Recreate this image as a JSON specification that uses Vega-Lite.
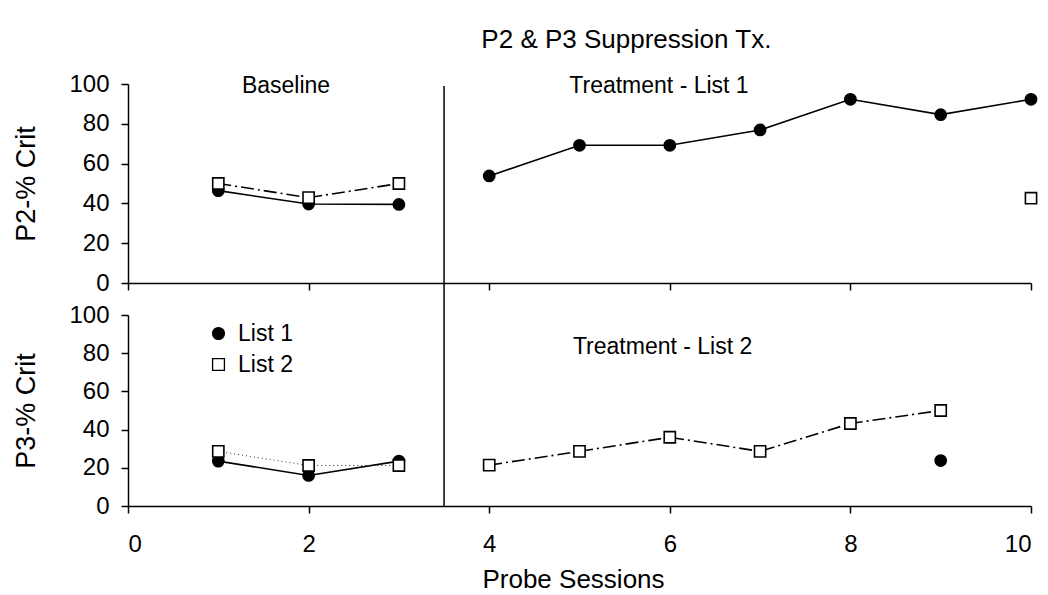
{
  "$schema": "https://vega.github.io/schema/vega-lite/v6.json",
  "padding": {"left": 12, "top": 27, "right": 5, "bottom": 5},
  "autosize": {"type": "pad"},
  "background": "white",
  "title": {"text": "P2 & P3 Suppression Tx.", "fontSize": 26, "font": "Liberation Sans", "fontWeight": "normal", "color": "black", "anchor": "middle", "dx": 100, "offset": 19},
  "datasets": {
    "obs": [
      {"panel": "P2", "list": "List 1", "phase": "Baseline", "session": 1, "pct": 46.4},
      {"panel": "P2", "list": "List 1", "phase": "Baseline", "session": 2, "pct": 39.7},
      {"panel": "P2", "list": "List 1", "phase": "Baseline", "session": 3, "pct": 39.5},
      {"panel": "P2", "list": "List 1", "phase": "Treatment", "session": 4, "pct": 53.8},
      {"panel": "P2", "list": "List 1", "phase": "Treatment", "session": 5, "pct": 69.2},
      {"panel": "P2", "list": "List 1", "phase": "Treatment", "session": 6, "pct": 69.2},
      {"panel": "P2", "list": "List 1", "phase": "Treatment", "session": 7, "pct": 76.9},
      {"panel": "P2", "list": "List 1", "phase": "Treatment", "session": 8, "pct": 92.3},
      {"panel": "P2", "list": "List 1", "phase": "Treatment", "session": 9, "pct": 84.6},
      {"panel": "P2", "list": "List 1", "phase": "Treatment", "session": 10, "pct": 92.3},
      {"panel": "P3", "list": "List 1", "phase": "Baseline", "session": 1, "pct": 23.5},
      {"panel": "P3", "list": "List 1", "phase": "Baseline", "session": 2, "pct": 16.0},
      {"panel": "P3", "list": "List 1", "phase": "Baseline", "session": 3, "pct": 23.5},
      {"panel": "P3", "list": "List 1", "phase": "Treatment", "session": 9, "pct": 23.8},
      {"panel": "P2", "list": "List 2", "phase": "Baseline", "session": 1, "pct": 50.0},
      {"panel": "P2", "list": "List 2", "phase": "Baseline", "session": 2, "pct": 42.9},
      {"panel": "P2", "list": "List 2", "phase": "Baseline", "session": 3, "pct": 50.0},
      {"panel": "P2", "list": "List 2", "phase": "Treatment", "session": 10, "pct": 42.6},
      {"panel": "P3", "list": "List 2", "phase": "Baseline", "session": 1, "pct": 28.6},
      {"panel": "P3", "list": "List 2", "phase": "Baseline", "session": 2, "pct": 21.2},
      {"panel": "P3", "list": "List 2", "phase": "Baseline", "session": 3, "pct": 21.2},
      {"panel": "P3", "list": "List 2", "phase": "Treatment", "session": 4, "pct": 21.4},
      {"panel": "P3", "list": "List 2", "phase": "Treatment", "session": 5, "pct": 28.6},
      {"panel": "P3", "list": "List 2", "phase": "Treatment", "session": 6, "pct": 36.0},
      {"panel": "P3", "list": "List 2", "phase": "Treatment", "session": 7, "pct": 28.6},
      {"panel": "P3", "list": "List 2", "phase": "Treatment", "session": 8, "pct": 43.2},
      {"panel": "P3", "list": "List 2", "phase": "Treatment", "session": 9, "pct": 50.0}
    ],
    "notes": [
      {"panel": "P2", "label": "Baseline", "session": 1.75, "pct": 99},
      {"panel": "P2", "label": "Treatment - List 1", "session": 5.88, "pct": 99},
      {"panel": "P3", "label": "Treatment - List 2", "session": 5.92, "pct": 83}
    ],
    "phase": [{"session": 3.5}]
  },
  "spacing": 32,
  "bounds": "flush",
  "resolve": {"legend": {"shape": "independent", "fill": "independent", "stroke": "independent"}},
  "vconcat": [
    {
      "width": 903,
      "height": 199,
      "layer": [
        {
          "data": {"name": "phase"},
          "mark": {"type": "rule", "color": "black", "strokeWidth": 1.5},
          "encoding": {"x": {"field": "session", "type": "quantitative"}, "y": {"datum": 99, "type": "quantitative"}, "y2": {"datum": -16.1}}
        },
        {
          "data": {"name": "obs"},
          "transform": [{"filter": "datum.panel === 'P2' && datum.list === 'List 1'"}],
          "mark": {"type": "line", "color": "black", "strokeWidth": 1.6},
          "encoding": {
            "x": {"field": "session", "type": "quantitative"},
            "y": {"field": "pct", "type": "quantitative"},
            "detail": {"field": "phase"}
          }
        },
        {
          "data": {"name": "obs"},
          "transform": [{"filter": "datum.panel === 'P2' && datum.list === 'List 2'"}],
          "mark": {"type": "line", "color": "black", "strokeWidth": 1.6, "strokeDash": [13, 4, 2, 4]},
          "encoding": {
            "x": {"field": "session", "type": "quantitative"},
            "y": {"field": "pct", "type": "quantitative"},
            "detail": {"field": "phase"}
          }
        },
        {
          "data": {"name": "obs"},
          "transform": [{"filter": "datum.panel === 'P2'"}],
          "mark": {"type": "point", "filled": true, "strokeWidth": 1.6, "opacity": 1},
          "encoding": {
            "x": {"field": "session", "type": "quantitative"},
            "y": {"field": "pct", "type": "quantitative"},
            "shape": {"field": "list", "type": "nominal", "scale": {"domain": ["List 1", "List 2"], "range": ["circle", "square"]}, "legend": null},
            "fill": {"field": "list", "type": "nominal", "scale": {"domain": ["List 1", "List 2"], "range": ["black", "white"]}, "legend": null},
            "stroke": {"field": "list", "type": "nominal", "scale": {"domain": ["List 1", "List 2"], "range": ["black", "black"]}, "legend": null},
            "size": {"field": "list", "type": "nominal", "scale": {"domain": ["List 1", "List 2"], "range": [125, 125]}, "legend": null}
          }
        },
        {
          "data": {"name": "notes"},
          "transform": [{"filter": "datum.panel === 'P2'"}],
          "mark": {"type": "text", "font": "Liberation Sans", "fontSize": 23, "color": "black", "align": "center", "baseline": "middle"},
          "encoding": {
            "x": {"field": "session", "type": "quantitative"},
            "y": {"field": "pct", "type": "quantitative"},
            "text": {"field": "label"}
          }
        }
      ],
      "encoding": {
        "x": {"type": "quantitative", "scale": {"domain": [0, 10], "nice": false, "zero": false}, "axis": {"values": [0, 2, 4, 6, 8, 10], "labels": false, "title": null}},
        "y": {"type": "quantitative", "scale": {"domain": [0, 100], "nice": false}, "axis": {"values": [0, 20, 40, 60, 80, 100], "title": "P2-% Crit"}}
      }
    },
    {
      "width": 903,
      "height": 191,
      "layer": [
        {
          "data": {"name": "phase"},
          "mark": {"type": "rule", "color": "black", "strokeWidth": 1.5},
          "encoding": {"x": {"field": "session", "type": "quantitative"}, "y": {"datum": 100, "type": "quantitative"}, "y2": {"datum": 0}}
        },
        {
          "data": {"name": "obs"},
          "transform": [{"filter": "datum.panel === 'P3' && datum.list === 'List 1'"}],
          "mark": {"type": "line", "color": "black", "strokeWidth": 1.6},
          "encoding": {
            "x": {"field": "session", "type": "quantitative"},
            "y": {"field": "pct", "type": "quantitative"},
            "detail": {"field": "phase"}
          }
        },
        {
          "data": {"name": "obs"},
          "transform": [{"filter": "datum.panel === 'P3' && datum.list === 'List 2' && datum.phase === 'Baseline'"}],
          "mark": {"type": "line", "color": "#333333", "strokeWidth": 1, "strokeDash": [1, 3]},
          "encoding": {
            "x": {"field": "session", "type": "quantitative"},
            "y": {"field": "pct", "type": "quantitative"}
          }
        },
        {
          "data": {"name": "obs"},
          "transform": [{"filter": "datum.panel === 'P3' && datum.list === 'List 2' && datum.phase === 'Treatment'"}],
          "mark": {"type": "line", "color": "black", "strokeWidth": 1.6, "strokeDash": [13, 4, 2, 4]},
          "encoding": {
            "x": {"field": "session", "type": "quantitative"},
            "y": {"field": "pct", "type": "quantitative"}
          }
        },
        {
          "data": {"name": "obs"},
          "transform": [{"filter": "datum.panel === 'P3'"}],
          "mark": {"type": "point", "filled": true, "strokeWidth": 1.6, "opacity": 1},
          "encoding": {
            "x": {"field": "session", "type": "quantitative"},
            "y": {"field": "pct", "type": "quantitative"},
            "shape": {"field": "list", "type": "nominal", "scale": {"domain": ["List 1", "List 2"], "range": ["circle", "square"]}, "legend": {"orient": "none", "legendX": 79, "legendY": 7, "title": null, "labelFontSize": 23, "labelFont": "Liberation Sans", "labelColor": "black", "symbolSize": 140, "symbolStrokeWidth": 1.3, "rowPadding": 7, "labelOffset": 8, "padding": 0}},
            "fill": {"field": "list", "type": "nominal", "scale": {"domain": ["List 1", "List 2"], "range": ["black", "white"]}, "legend": {"orient": "none", "legendX": 79, "legendY": 7, "title": null, "labelFontSize": 23, "labelFont": "Liberation Sans", "labelColor": "black", "symbolSize": 140, "symbolStrokeWidth": 1.3, "rowPadding": 7, "labelOffset": 8, "padding": 0}},
            "stroke": {"field": "list", "type": "nominal", "scale": {"domain": ["List 1", "List 2"], "range": ["black", "black"]}, "legend": {"orient": "none", "legendX": 79, "legendY": 7, "title": null, "labelFontSize": 23, "labelFont": "Liberation Sans", "labelColor": "black", "symbolSize": 140, "symbolStrokeWidth": 1.3, "rowPadding": 7, "labelOffset": 8, "padding": 0}},
            "size": {"field": "list", "type": "nominal", "scale": {"domain": ["List 1", "List 2"], "range": [125, 125]}, "legend": null}
          }
        },
        {
          "data": {"name": "notes"},
          "transform": [{"filter": "datum.panel === 'P3'"}],
          "mark": {"type": "text", "font": "Liberation Sans", "fontSize": 23, "color": "black", "align": "center", "baseline": "middle"},
          "encoding": {
            "x": {"field": "session", "type": "quantitative"},
            "y": {"field": "pct", "type": "quantitative"},
            "text": {"field": "label"}
          }
        }
      ],
      "encoding": {
        "x": {"type": "quantitative", "scale": {"domain": [0, 10], "nice": false, "zero": false}, "axis": {"values": [0, 2, 4, 6, 8, 10], "title": "Probe Sessions", "labelPadding": 19, "titlePadding": 10, "titleX": 445, "titleAnchor": "middle"}},
        "y": {"type": "quantitative", "scale": {"domain": [0, 100], "nice": false}, "axis": {"values": [0, 20, 40, 60, 80, 100], "title": "P3-% Crit"}}
      }
    }
  ],
  "config": {
    "view": {"stroke": null},
    "axis": {"domainColor": "black", "domainWidth": 1.5, "tickColor": "black", "tickWidth": 1.5, "tickSize": 7, "labelColor": "black", "titleColor": "black", "labelFont": "Liberation Sans", "titleFont": "Liberation Sans", "labelFontSize": 24, "titleFontWeight": "normal", "grid": false, "labelPadding": 12},
    "axisX": {"titleFontSize": 26},
    "axisY": {"titlePadding": 28, "titleFontSize": 27}
  }
}
